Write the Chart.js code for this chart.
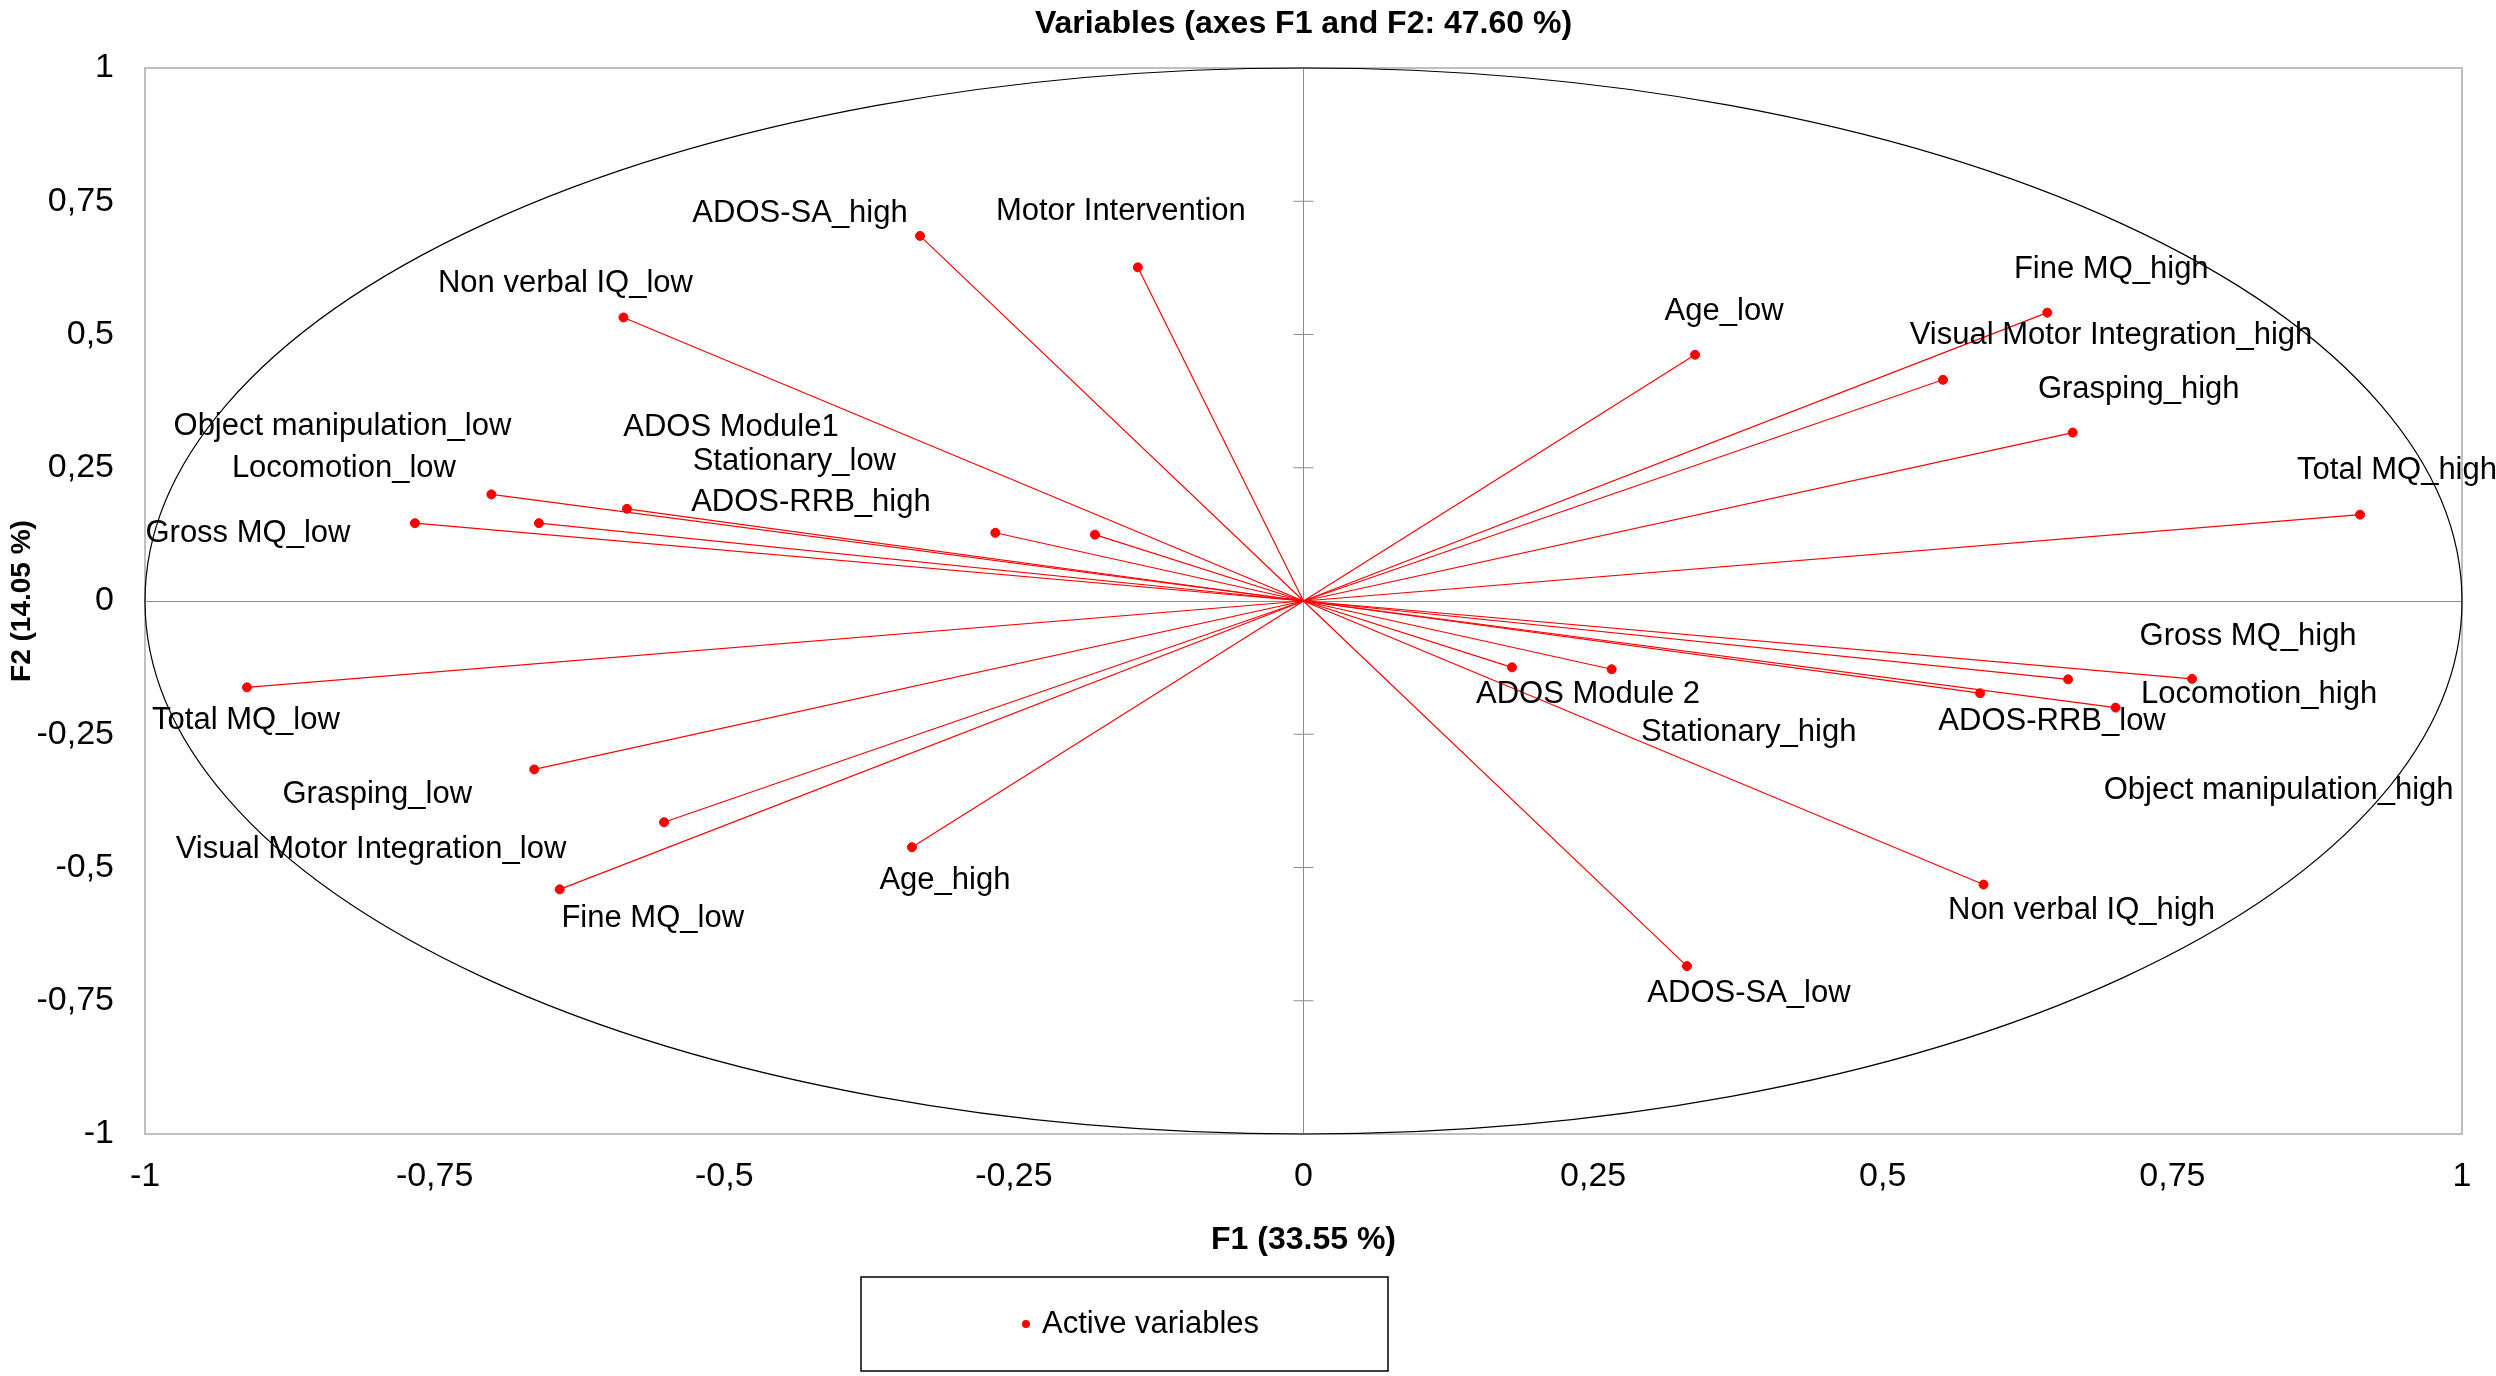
<!DOCTYPE html>
<html>
<head>
<meta charset="utf-8">
<title>Variables (axes F1 and F2: 47.60 %)</title>
<script src="https://cdn.jsdelivr.net/npm/chart.js@4.4.1/dist/chart.umd.min.js"></script>
<style>
  html, body { margin: 0; padding: 0; background: #fff; }
  #wrap { width: 2496px; height: 1376px; }
</style>
</head>
<body>
<div id="wrap"><canvas id="pca" width="2496" height="1376"></canvas></div>
<script>
// variable names and their coordinates on F1 / F2
const variables = [
  'Age_low', 'Age_high',
  'Fine MQ_high', 'Fine MQ_low',
  'Visual Motor Integration_high', 'Visual Motor Integration_low',
  'Grasping_high', 'Grasping_low',
  'Total MQ_high', 'Total MQ_low',
  'Gross MQ_low', 'Gross MQ_high',
  'Locomotion_low', 'Locomotion_high',
  'Object manipulation_low', 'Object manipulation_high',
  'Non verbal IQ_low', 'Non verbal IQ_high',
  'ADOS-SA_high', 'ADOS-SA_low',
  'ADOS Module1', 'ADOS Module 2',
  'Stationary_low', 'Stationary_high',
  'ADOS-RRB_high', 'ADOS-RRB_low',
  'Motor Intervention'
];
const f1 = [
  0.338, -0.338,
  0.642, -0.642,
  0.552, -0.552,
  0.664, -0.664,
  0.912, -0.912,
  -0.767, 0.767,
  -0.660, 0.660,
  -0.701, 0.701,
  -0.587, 0.587,
  -0.331, 0.331,
  -0.180, 0.180,
  -0.266, 0.266,
  -0.584, 0.584,
  -0.143
];
const f2 = [
  0.462, -0.462,
  0.541, -0.541,
  0.415, -0.415,
  0.316, -0.316,
  0.162, -0.162,
  0.146, -0.146,
  0.146, -0.147,
  0.200, -0.200,
  0.532, -0.532,
  0.685, -0.685,
  0.1245, -0.1245,
  0.128, -0.128,
  0.173, -0.173,
  0.626
];
const axisTicks = [-1, -0.75, -0.5, -0.25, 0, 0.25, 0.5, 0.75, 1];

// where each label sits relative to its point (pixels)
const labelShift = [
  [29, -43], [33, 33],
  [64, -43], [93, 29],
  [168, -44], [-293, 27],
  [66, -43], [-157, 25],
  [37, -44], [-1, 33],
  [-167, 10], [56, -42],
  [-195, -55], [191, 15],
  [-149, -68], [163, 83],
  [-58, -34], [98, 26],
  [-120, -22], [62, 27],
  [-364, -107], [76, 27],
  [-201, -71], [137, 63],
  [184, -6], [72, 28],
  [-17, -56]
];

const FONT = "'Liberation Sans Narrow', 'Liberation Sans', Arial, sans-serif";
const RED = '#ff0000';

const fmt = v => String(v).replace('.', ',');

// one segment per variable, from the origin to the point
const vectors = variables.map((name, i) => ({
  label: name,
  data: [{x: 0, y: 0}, {x: f1[i], y: f2[i]}],
  showLine: true,
  borderColor: RED,
  borderWidth: 1.2,
  pointRadius: 0,
  order: 2
}));

const points = {
  label: 'Active variables',
  data: variables.map((name, i) => ({x: f1[i], y: f2[i]})),
  backgroundColor: RED,
  borderColor: RED,
  pointRadius: 4.5,
  order: 1
};

const circlePlugin = {
  id: 'circle',
  beforeDatasetsDraw(chart) {
    const {ctx, chartArea: a, scales: {x, y}} = chart;
    ctx.save();
    ctx.strokeStyle = '#bfbfbf';
    ctx.lineWidth = 2;
    ctx.strokeRect(a.left, a.top, a.width, a.height);

    const x0 = x.getPixelForValue(0);
    const y0 = y.getPixelForValue(0);
    ctx.strokeStyle = '#8c8c8c';
    ctx.lineWidth = 1;
    y.ticks.forEach(t => {
      if (t.value === 0 || Math.abs(t.value) === 1) return;
      const py = y.getPixelForValue(t.value);
      ctx.beginPath();
      ctx.moveTo(x0 - 10, py);
      ctx.lineTo(x0 + 10, py);
      ctx.stroke();
    });

    const rx = x.getPixelForValue(1) - x0;
    const ry = y0 - y.getPixelForValue(1);
    ctx.strokeStyle = '#000';
    ctx.lineWidth = 1.2;
    ctx.beginPath();
    ctx.ellipse(x0, y0, rx, ry, 0, 0, Math.PI * 2);
    ctx.stroke();
    ctx.restore();
  }
};

const labelPlugin = {
  id: 'varLabels',
  afterDatasetsDraw(chart) {
    const {ctx, scales: {x, y}} = chart;
    ctx.save();
    ctx.font = '31px ' + FONT;
    ctx.fillStyle = '#000';
    ctx.textAlign = 'center';
    ctx.textBaseline = 'middle';
    variables.forEach((name, i) => {
      const px = x.getPixelForValue(f1[i]) + labelShift[i][0];
      const py = y.getPixelForValue(f2[i]) + labelShift[i][1];
      ctx.fillText(name, px, py);
    });
    ctx.restore();
  }
};

const legendBox = {
  id: 'legendBox',
  afterDraw(chart) {
    const ctx = chart.ctx;
    const ds = chart.data.datasets.find(d => d.label === 'Active variables');
    ctx.save();
    ctx.strokeStyle = '#000';
    ctx.lineWidth = 1.5;
    ctx.strokeRect(861, 1277, 527, 94);
    ctx.fillStyle = ds.backgroundColor;
    ctx.beginPath();
    ctx.arc(1026, 1324, 4, 0, Math.PI * 2);
    ctx.fill();
    ctx.fillStyle = '#000';
    ctx.font = '31px ' + FONT;
    ctx.textAlign = 'left';
    ctx.textBaseline = 'middle';
    ctx.fillText(ds.label, 1042, 1324);
    ctx.restore();
  }
};

const zeroGrid = c => (c.tick && c.tick.value === 0) ? '#8c8c8c' : 'rgba(0,0,0,0)';

new Chart(document.getElementById('pca'), {
  type: 'scatter',
  data: { datasets: [points].concat(vectors) },
  options: {
    responsive: false,
    devicePixelRatio: 1,
    animation: false,
    events: [],
    layout: { padding: { top: 0, left: 0, right: 34, bottom: 0 } },
    plugins: {
      legend: { display: false },
      tooltip: { enabled: false },
      title: {
        display: true,
        fullSize: false,
        text: 'Variables (axes F1 and F2: 47.60 %)',
        color: '#000',
        font: { family: FONT, size: 32, weight: 'bold' },
        padding: { top: 5, bottom: 24.6 }
      }
    },
    scales: {
      x: {
        type: 'linear',
        min: -1, max: 1,
        afterBuildTicks: s => { s.ticks = axisTicks.map(v => ({value: v})); },
        afterFit: s => { s.height = 242; },
        grid: { color: zeroGrid, lineWidth: 1, drawTicks: false },
        border: { display: false },
        ticks: { color: '#000', padding: 22, font: { family: FONT, size: 34 }, callback: fmt, maxRotation: 0 },
        title: {
          display: true, text: 'F1 (33.55 %)', color: '#000',
          font: { family: FONT, size: 32, weight: 'bold' },
          padding: { top: 0, bottom: 117 }
        }
      },
      y: {
        type: 'linear',
        min: -1, max: 1,
        afterBuildTicks: s => { s.ticks = axisTicks.map(v => ({value: v})); },
        afterFit: s => { s.width = 145; },
        grid: { color: zeroGrid, lineWidth: 1, drawTicks: false },
        border: { display: false },
        ticks: { color: '#000', padding: 31, font: { family: FONT, size: 34 }, callback: fmt },
        title: {
          display: true, text: 'F2 (14.05 %)', color: '#000',
          font: { family: "'Liberation Sans', Arial, sans-serif", size: 28, weight: 'bold' },
          padding: { top: 5, bottom: 0 }
        }
      }
    }
  },
  plugins: [circlePlugin, labelPlugin, legendBox]
});
</script>
</body>
</html>
